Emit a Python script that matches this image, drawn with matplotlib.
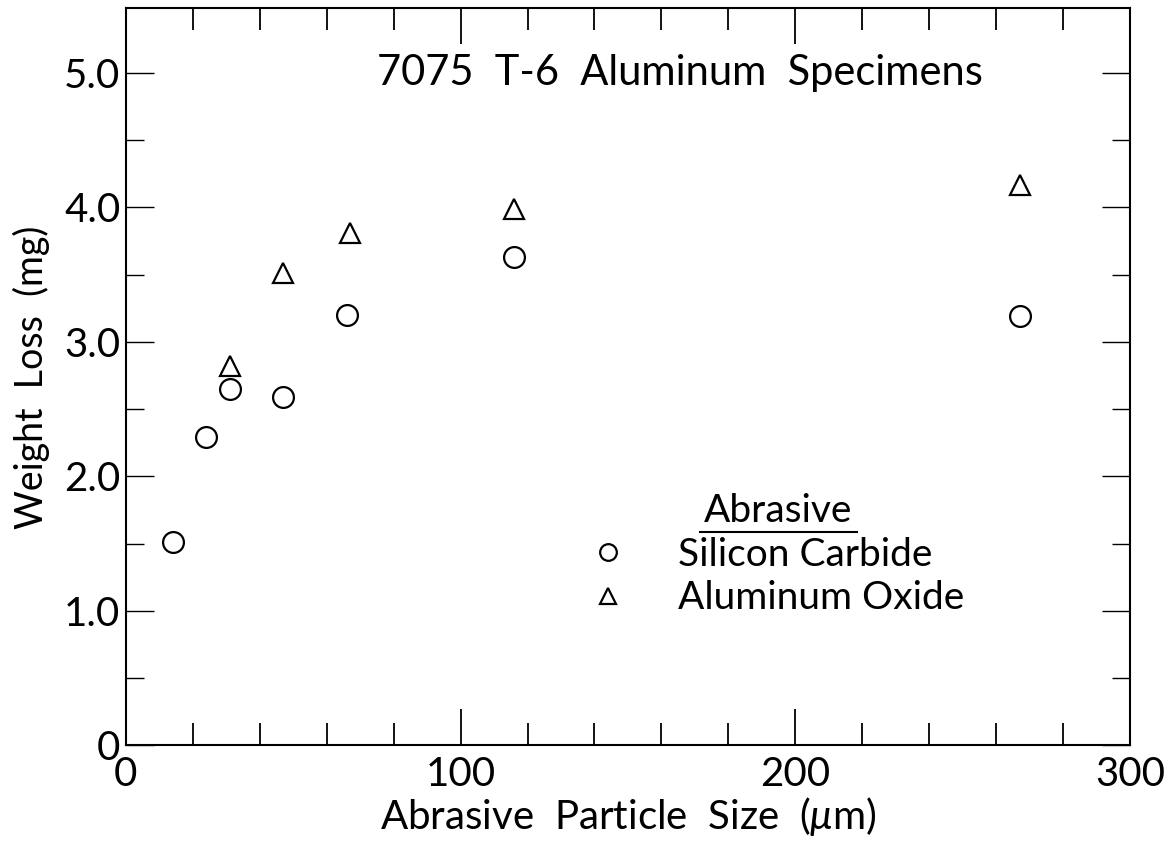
import numpy as np
import matplotlib
matplotlib.use('Agg')
from matplotlib import pyplot as plt
from matplotlib.lines import Line2D

plt.rcParams['font.family'] = ['Lato', 'DejaVu Sans']
plt.rcParams['mathtext.fontset'] = 'custom'
plt.rcParams['mathtext.it'] = 'Lato:italic'

# weight loss vs particle size
sic_size = [14, 24, 31, 47, 66, 116, 267]
sic_loss = [1.51, 2.29, 2.65, 2.59, 3.20, 3.63, 3.19]
alo_size = [31, 47, 67, 116, 267]
alo_loss = [2.82, 3.51, 3.81, 3.99, 4.17]

xticks = [0, 100, 200, 300]
xtick_labels = ['0', '100', '200', '300']
yticks = [0, 1, 2, 3, 4, 5]
ytick_labels = ['0', '1.0', '2.0', '3.0', '4.0', '5.0']

fig = plt.figure(figsize=(11.65, 8.43), dpi=100)
ax = fig.add_axes([0.108, 0.116, 0.862, 0.874])

ax.plot(sic_size, sic_loss, 'o', ms=15, mfc='none', mec='k', mew=1.6, label='Silicon Carbide')
ax.plot(alo_size, alo_loss, '^', ms=15, mfc='none', mec='k', mew=1.6, label='Aluminum Oxide')

ax.set_xlim(0, 300)
ax.set_ylim(0, 5.48)
ax.set_xticks(xticks)
ax.set_xticklabels(xtick_labels)
ax.set_xticks(np.arange(20, 300, 20), minor=True)
ax.set_yticks(yticks)
ax.set_yticklabels(ytick_labels)
ax.set_yticks(np.arange(0.5, 5.5, 1.0), minor=True)

for s in ax.spines.values():
    s.set_linewidth(1.5)
ax.tick_params(axis='x', which='major', direction='in', top=True, length=26, width=1.3,
               labelsize=29, pad=8)
ax.tick_params(axis='x', which='minor', direction='in', top=True, length=16, width=1.3)
ax.tick_params(axis='y', which='major', direction='in', right=True, length=20, width=1.0,
               labelsize=29, pad=4)
ax.tick_params(axis='y', which='minor', direction='in', right=True, length=13, width=1.0)

ax.set_xlabel('Abrasive  Particle  Size  ($\\mu$m)', fontsize=29, labelpad=1)
ax.set_ylabel('Weight  Loss  (mg)', fontsize=27, labelpad=10)

ax.text(0.552, 0.913, '7075  T-6  Aluminum  Specimens', transform=ax.transAxes,
        ha='center', va='center', fontsize=30)

leg = ax.legend(loc='upper left', bbox_to_anchor=(0.43, 0.39), frameon=False,
                title='Abrasive', fontsize=28, title_fontsize=28, markerscale=0.8,
                handlelength=0.8, handletextpad=1.4, labelspacing=0.2)

# underline the legend title
fig.canvas.draw()
bb = leg.get_title().get_window_extent().transformed(fig.transFigure.inverted())
fig.add_artist(Line2D([bb.x0 - 0.004, bb.x1 + 0.004], [bb.y0 - 0.004, bb.y0 - 0.004],
                      transform=fig.transFigure, color='k', lw=1.5))

plt.savefig('out.png', dpi=100)
